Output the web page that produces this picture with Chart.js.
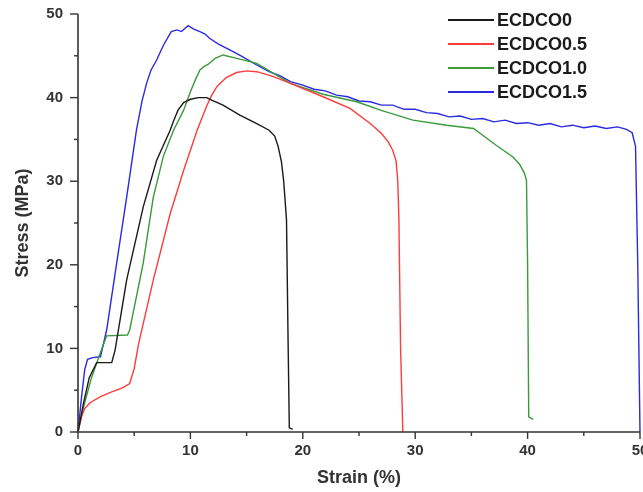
<!DOCTYPE html>
<html>
<head>
<meta charset="utf-8">
<script src="https://cdn.jsdelivr.net/npm/chart.js@4/dist/chart.umd.min.js"></script>
<style>
html,body{margin:0;padding:0;background:#fff;}
#wrap{width:643px;height:492px;}
</style>
</head>
<body>
<div id="wrap"><canvas id="c" width="643" height="492"></canvas></div>
<script>
// ---- data ----
const seriesNames = ["ECDCO0", "ECDCO0.5", "ECDCO1.0", "ECDCO1.5"];
const seriesColors = ["#1a1a1a", "#ff3b3b", "#3a9a3a", "#2a2ae0"];

const e0Strain = [0,0.5,1.0,1.66,3.0,3.3,4.33,5.8,7.0,8.2,8.5,8.9,9.4,10.0,10.7,11.45,11.9,12.9,14.4,15.9,17.0,17.5,17.8,18.1,18.3,18.55,18.7,18.8,19.1];
const e0Stress = [0,3.5,6.5,8.3,8.3,9.8,18.2,26.9,32.5,36.1,37.2,38.5,39.4,39.8,40.0,40.0,39.7,39.1,37.9,36.9,36.1,35.4,34.2,32.3,30.0,25.4,10,0.5,0.3];

const e05Strain = [0,0.3,0.6,1.07,1.96,3.0,4.0,4.6,5.0,5.4,6.7,8.2,9.4,10.6,11.45,11.9,12.4,13.2,14.1,15.0,15.9,17.4,18.9,21.8,24.2,26.0,27.0,27.6,28.0,28.3,28.45,28.55,28.7,28.9];
const e05Stress = [0,1.8,2.8,3.5,4.2,4.8,5.3,5.8,7.6,10.6,18.2,26.1,31.3,36.1,39.0,40.3,41.4,42.4,43.0,43.2,43.1,42.5,41.7,40.1,38.7,36.9,35.7,34.7,33.7,32.4,30.0,25.4,10,0];

const e10Strain = [0,0.5,1.2,2.0,2.55,4.4,4.6,5.8,6.7,7.6,8.5,9.4,10.0,10.5,10.85,11.2,11.6,12.2,12.9,14.4,15.9,18.9,21.8,24.8,26.9,29.8,32.8,35.2,35.8,37.2,38.7,39.3,39.7,39.9,40.0,40.1,40.5];
const e10Stress = [0,3,6.5,9.5,11.5,11.6,12.2,20.2,28.1,33.0,36.1,38.5,40.7,42.3,43.3,43.7,44.0,44.7,45.1,44.6,44.1,41.7,40.4,39.5,38.5,37.3,36.7,36.3,35.7,34.3,32.9,32.0,31.0,30.1,20,1.8,1.5];

const e15Strain = [0,0.3,0.6,0.85,1.3,2.0,2.55,3.44,4.33,5.2,5.7,6.1,6.5,7.0,7.4,7.7,8.3,8.8,9.2,9.8,10.3,10.85,11.3,11.7,12.5,13.5,14.5,15.9,17.0,18.0,18.9,20,21,22,23,24,25,26,27,28,29,30,31,32,33,34,35,36,37,38,39,40,41,42,43,44,45,46,47,48,48.8,49.3,49.6,49.8,50.0];
const e15Stress = [0,4,7.5,8.7,8.9,9.0,12.2,20.2,28.1,36.1,39.6,41.7,43.3,44.5,45.7,46.5,47.9,48.1,47.9,48.6,48.2,47.9,47.6,47.1,46.4,45.7,45.0,43.9,43.1,42.6,41.9,41.5,41.0,40.8,40.3,40.1,39.6,39.5,39.1,39.1,38.6,38.6,38.2,38.1,37.7,37.8,37.4,37.5,37.1,37.3,36.9,37.0,36.7,36.9,36.5,36.7,36.4,36.6,36.3,36.5,36.2,35.8,34.2,20,0];

const xTickLabels = ["0","10","20","30","40","50"];
const yTickLabels = ["0","10","20","30","40","50"];
const xTitle = "Strain (%)";
const yTitle = "Stress (MPa)";

function pairs(xs, ys){ return xs.map((x,i)=>({x:x, y:ys[i]})); }
const allStrain = [e0Strain, e05Strain, e10Strain, e15Strain];
const allStress = [e0Stress, e05Stress, e10Stress, e15Stress];

const datasets = seriesNames.map((n,i)=>({
  label: n,
  data: pairs(allStrain[i], allStress[i]),
  borderColor: seriesColors[i],
  backgroundColor: seriesColors[i],
  borderWidth: 1.4,
  pointRadius: 0,
  showLine: true,
  tension: 0,
  clip: false
}));

const axisColor = "#333";
const decor = {
  id: 'decor',
  afterDraw(chart){
    const ctx = chart.ctx;
    const xs = chart.scales.x, ys = chart.scales.y;
    const ca = chart.chartArea;
    ctx.save();
    ctx.strokeStyle = axisColor;
    ctx.lineWidth = 1.6;
    ctx.beginPath();
    ctx.moveTo(ca.left, ys.getPixelForValue(50));
    ctx.lineTo(ca.left, ys.getPixelForValue(0));
    ctx.lineTo(xs.getPixelForValue(50), ys.getPixelForValue(0));
    ctx.stroke();
    ctx.lineWidth = 1.4;
    for (let v = 0; v <= 50; v += 5) {
      const major = v % 10 === 0;
      const px = xs.getPixelForValue(v);
      const py0 = ys.getPixelForValue(0);
      ctx.beginPath();
      ctx.moveTo(px, py0);
      ctx.lineTo(px, py0 + (major ? 7 : 4));
      ctx.stroke();
      const py = ys.getPixelForValue(v);
      ctx.beginPath();
      ctx.moveTo(ca.left, py);
      ctx.lineTo(ca.left - (major ? 8 : 4), py);
      ctx.stroke();
    }
    ctx.fillStyle = axisColor;
    ctx.font = "bold 15px 'Liberation Sans', Arial, sans-serif";
    ctx.textAlign = "center";
    ctx.textBaseline = "middle";
    xTickLabels.forEach((t,i)=>{
      ctx.fillText(t, xs.getPixelForValue(i*10), ys.getPixelForValue(0) + 19);
    });
    ctx.textAlign = "right";
    yTickLabels.forEach((t,i)=>{
      ctx.fillText(t, ca.left - 15, ys.getPixelForValue(i*10));
    });
    ctx.font = "bold 18px 'Liberation Sans', Arial, sans-serif";
    ctx.textAlign = "center";
    ctx.fillText(xTitle, (ca.left + ca.right)/2, 478);
    ctx.save();
    ctx.translate(23, (ca.top + ca.bottom)/2);
    ctx.rotate(-Math.PI/2);
    ctx.fillText(yTitle, 0, 0);
    ctx.restore();
    ctx.font = "bold 18px 'Liberation Sans', Arial, sans-serif";
    ctx.textAlign = "left";
    chart.data.datasets.forEach((d,i)=>{
      const y = 20 + i*24;
      ctx.strokeStyle = d.borderColor;
      ctx.lineWidth = 2;
      ctx.beginPath();
      ctx.moveTo(448, y);
      ctx.lineTo(494, y);
      ctx.stroke();
      ctx.fillStyle = "#1a1a1a";
      ctx.fillText(d.label, 497, y + 1);
    });
    ctx.restore();
  }
};

new Chart(document.getElementById('c'), {
  type: 'scatter',
  data: { datasets },
  options: {
    responsive: false,
    devicePixelRatio: 1,
    animation: false,
    layout: { padding: { left: 78, right: 3, top: 14, bottom: 60 } },
    plugins: { legend: { display: false }, tooltip: { enabled: false } },
    scales: {
      x: { type: 'linear', min: 0, max: 50, display: false },
      y: { type: 'linear', min: 0, max: 50, display: false }
    }
  },
  plugins: [decor]
});
</script>
</body>
</html>
